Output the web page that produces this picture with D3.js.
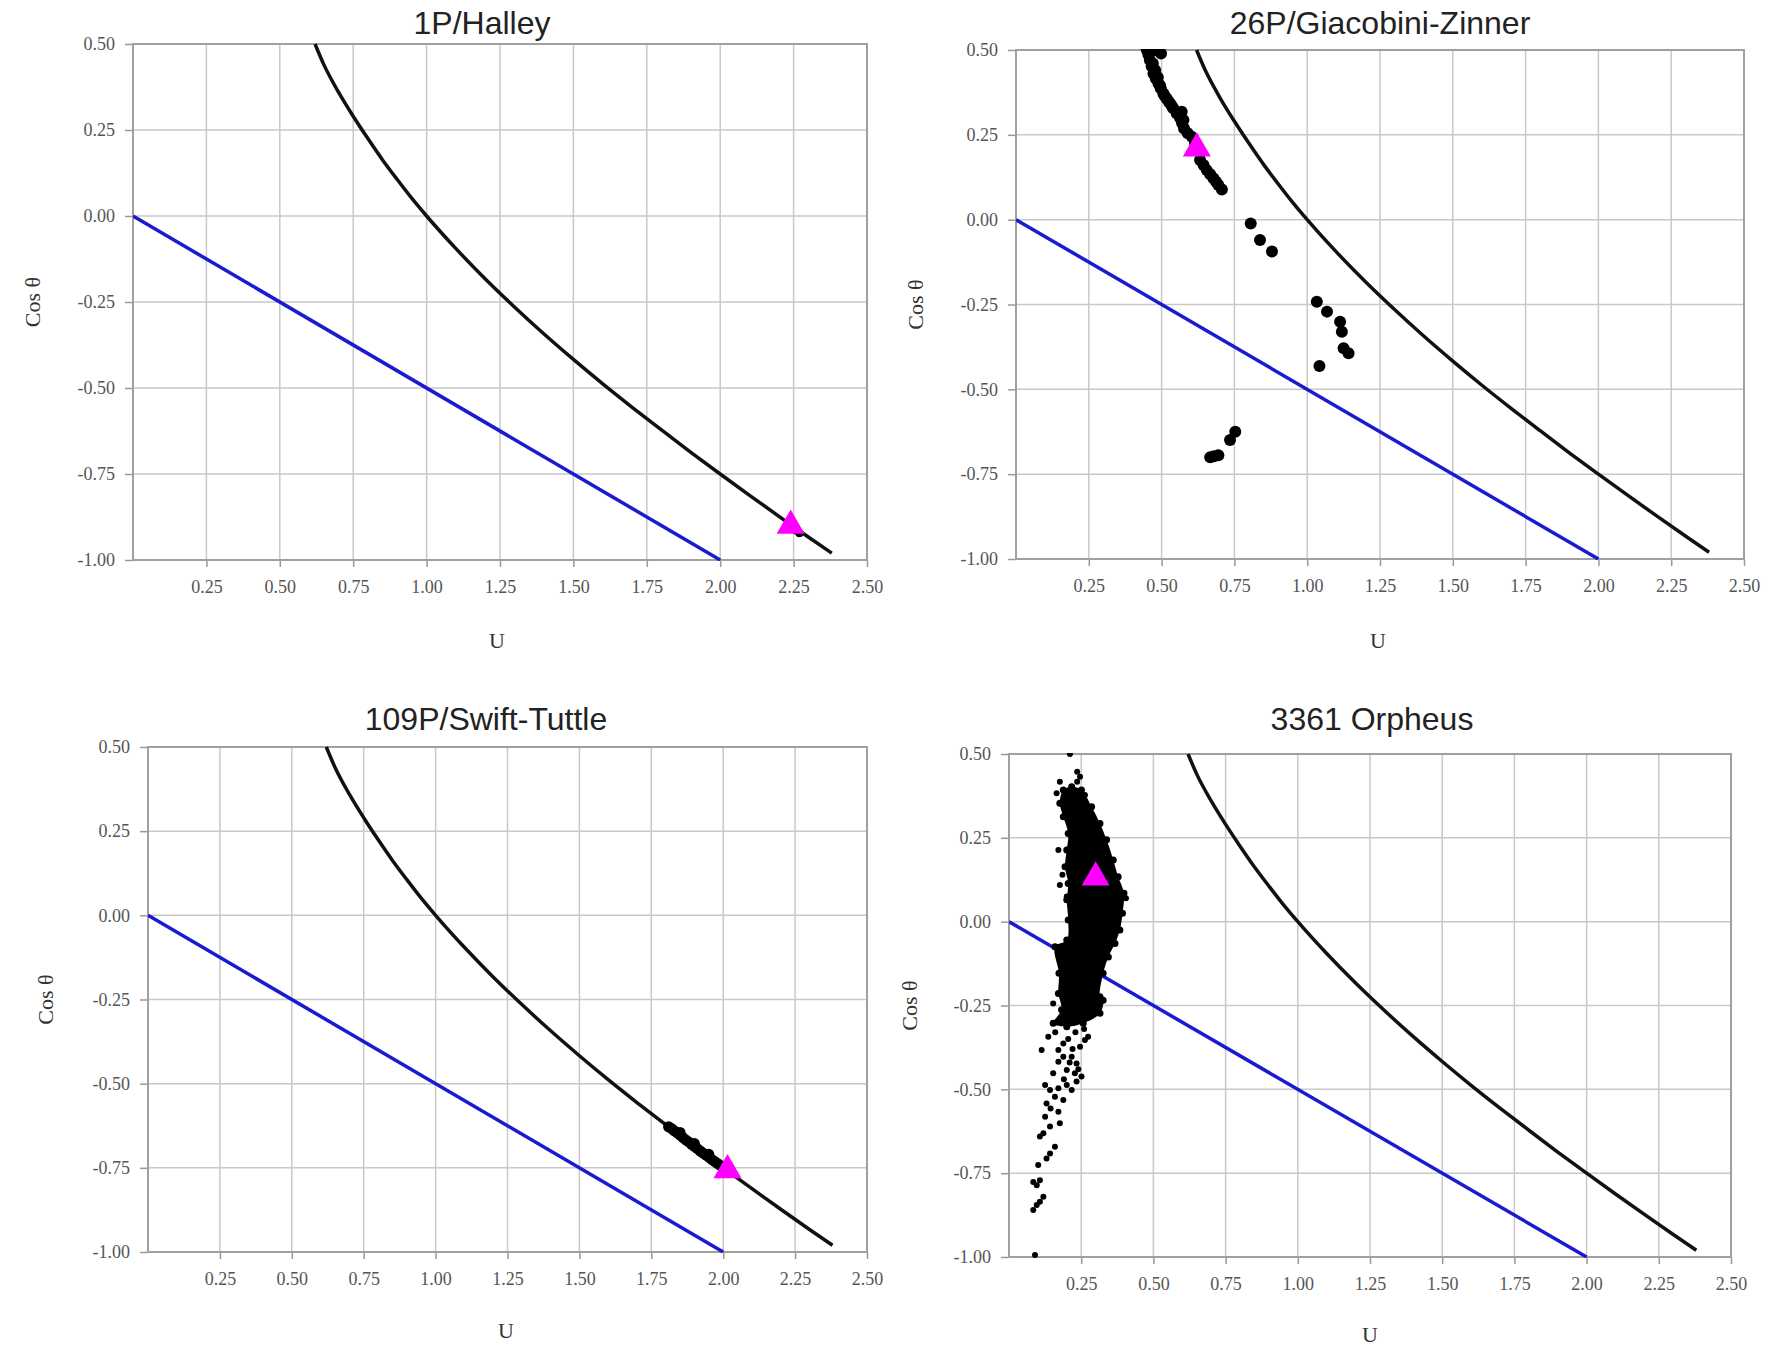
<!DOCTYPE html>
<html>
<head>
<meta charset="utf-8">
<script src="https://cdn.jsdelivr.net/npm/d3@7/dist/d3.min.js"></script>
<style>
	body { margin: 0; background: #fff; }
	svg { display: block; }
	.tick-label { font-family: 'Liberation Serif', 'DejaVu Serif', serif; font-size: 18px; fill: #555; }
	.title { font-family: 'Liberation Sans', Arial, sans-serif; font-size: 32px; fill: #222; }
	.axis-label { font-family: 'Liberation Serif', serif; font-size: 22px; fill: #333; }
</style>
</head>
<body>
<svg id="canvas"></svg>
<script>
// tick values shared by the four panels
const xTicks = [0.25, 0.5, 0.75, 1.0, 1.25, 1.5, 1.75, 2.0, 2.25, 2.5];
const yTicks = [0.5, 0.25, 0.0, -0.25, -0.5, -0.75, -1.0];

const titles = ['1P/Halley', '26P/Giacobini-Zinner', '109P/Swift-Tuttle', '3361 Orpheus'];

// black boundary curve
const boundaryU = [0.62, 0.65, 0.70, 0.75, 0.80, 0.85, 0.90, 0.95, 1.00, 1.10, 1.20, 1.30, 1.40,
	1.50, 1.60, 1.70, 1.80, 1.90, 2.00, 2.10, 2.20, 2.30, 2.38];
const boundaryCos = [0.50, 0.44, 0.36, 0.29, 0.225, 0.163, 0.106, 0.051, 0.0, -0.095, -0.183, -0.265, -0.343,
	-0.417, -0.488, -0.556, -0.622, -0.687, -0.75, -0.812, -0.873, -0.933, -0.98];

// blue straight line
const blueU = [0.0, 2.0];
const blueCos = [0.0, -1.0];

// magenta triangles (parent body)
const halleyTriangle = [2.24, -0.90];
const giacobiniTriangle = [0.621, 0.21];
const swiftTriangle = [2.015, -0.757];
const orpheusTriangle = [0.30, 0.132];

// black clone points
const halleyClones = [[2.26, -0.915], [2.27, -0.922]];

const giacobiniClones = [
	[0.449, 0.50], [0.465, 0.50], [0.478, 0.50], [0.49, 0.497], [0.498, 0.49], [0.455, 0.485],
	[0.46, 0.47], [0.47, 0.46], [0.466, 0.452], [0.472, 0.431], [0.478, 0.44], [0.48, 0.416],
	[0.487, 0.42], [0.489, 0.402], [0.495, 0.395], [0.497, 0.387], [0.506, 0.372], [0.51, 0.365],
	[0.517, 0.357], [0.523, 0.35], [0.529, 0.343], [0.535, 0.335], [0.54, 0.328], [0.552, 0.313],
	[0.569, 0.318], [0.563, 0.30], [0.575, 0.294], [0.57, 0.285], [0.577, 0.269], [0.59, 0.255],
	[0.604, 0.244], [0.615, 0.225], [0.632, 0.176], [0.644, 0.161], [0.655, 0.146], [0.667, 0.134],
	[0.678, 0.122], [0.687, 0.112], [0.695, 0.102], [0.707, 0.089],
	[0.806, -0.011], [0.838, -0.06], [0.879, -0.094],
	[1.033, -0.242], [1.068, -0.271], [1.113, -0.301], [1.119, -0.33], [1.125, -0.379],
	[1.142, -0.394], [1.042, -0.431],
	[0.753, -0.625], [0.735, -0.649], [0.695, -0.694], [0.667, -0.70], [0.68, -0.697]
];

const swiftClones = [
	[1.81, -0.628], [1.82, -0.633], [1.83, -0.64], [1.84, -0.646], [1.85, -0.653], [1.86, -0.66],
	[1.87, -0.667], [1.88, -0.673], [1.89, -0.68], [1.90, -0.686], [1.91, -0.693], [1.92, -0.70],
	[1.93, -0.706], [1.94, -0.712], [1.95, -0.718], [1.96, -0.725], [1.97, -0.731], [1.98, -0.737],
	[1.99, -0.743], [2.00, -0.75], [2.01, -0.756], [1.85, -0.645], [1.90, -0.678], [1.95, -0.71]
];

// outline of the dense part of the Orpheus cloud
const orpheusCore = [
	[0.217, 0.402], [0.251, 0.393], [0.286, 0.343], [0.315, 0.293], [0.338, 0.244], [0.361, 0.184],
	[0.378, 0.134], [0.398, 0.085], [0.393, 0.025], [0.384, -0.025], [0.367, -0.065], [0.344, -0.105],
	[0.326, -0.154], [0.315, -0.224], [0.326, -0.234], [0.315, -0.273], [0.257, -0.303], [0.20, -0.313],
	[0.153, -0.303], [0.182, -0.263], [0.171, -0.214], [0.173, -0.154], [0.159, -0.075], [0.20, -0.055],
	[0.205, 0.005], [0.20, 0.065], [0.205, 0.114], [0.194, 0.164], [0.20, 0.214], [0.205, 0.263],
	[0.188, 0.313], [0.176, 0.353], [0.188, 0.393]
];

// scattered Orpheus clones outside the dense part
const orpheusClones = [
	[0.211, 0.50], [0.236, 0.447], [0.236, 0.417], [0.246, 0.432], [0.176, 0.417], [0.165, 0.383],
	[0.263, 0.378], [0.171, 0.214], [0.176, 0.109], [0.20, 0.075], [0.185, 0.14], [0.405, 0.07],
	[0.153, -0.244], [0.136, -0.343], [0.113, -0.383], [0.188, -0.363], [0.274, -0.343], [0.263, -0.353],
	[0.246, -0.373], [0.171, -0.383], [0.188, -0.403], [0.217, -0.403], [0.234, -0.423], [0.171, -0.418],
	[0.20, -0.442], [0.228, -0.452], [0.251, -0.462], [0.153, -0.452], [0.125, -0.487], [0.142, -0.502],
	[0.171, -0.497], [0.20, -0.487], [0.217, -0.502], [0.234, -0.477], [0.159, -0.522], [0.188, -0.532],
	[0.13, -0.542], [0.144, -0.557], [0.171, -0.567], [0.125, -0.582], [0.176, -0.601], [0.142, -0.611],
	[0.119, -0.631], [0.107, -0.641], [0.159, -0.671], [0.142, -0.691], [0.13, -0.706], [0.101, -0.726],
	[0.084, -0.776], [0.107, -0.771], [0.096, -0.786], [0.119, -0.82], [0.107, -0.835], [0.096, -0.845],
	[0.084, -0.86], [0.09, -0.994], [0.21, -0.42], [0.24, -0.44], [0.19, -0.47], [0.22, -0.38],
	[0.205, -0.35], [0.23, -0.33], [0.16, -0.33], [0.26, -0.32]
];

const panels = [
	{ left: 133, right: 867, top: 44, bottom: 560, titleX: 482, titleY: 34, yLabelX: 32, uX: 497, uY: 648,
		clones: halleyClones, core: null, tri: halleyTriangle, r: 4 },
	{ left: 1016, right: 1744, top: 50, bottom: 559, titleX: 1380, titleY: 34, yLabelX: 915, uX: 1378, uY: 648,
		clones: giacobiniClones, core: null, tri: giacobiniTriangle, r: 6 },
	{ left: 148, right: 867, top: 747, bottom: 1252, titleX: 486, titleY: 730, yLabelX: 45, uX: 506, uY: 1338,
		clones: swiftClones, core: null, tri: swiftTriangle, r: 5.5 },
	{ left: 1009, right: 1731, top: 754, bottom: 1257, titleX: 1372, titleY: 730, yLabelX: 909, uX: 1370, uY: 1342,
		clones: orpheusClones, core: orpheusCore, tri: orpheusTriangle, r: 3 }
];

const w = 1771;
const h = 1351;
const svg = d3.select('#canvas').attr('width', w).attr('height', h);

const boundary = boundaryU.map((u, i) => [u, boundaryCos[i]]);
const blue = blueU.map((u, i) => [u, blueCos[i]]);

panels.forEach((p, idx) => {
	const x = d3.scaleLinear().domain([0, 2.5]).range([p.left, p.right]);
	const y = d3.scaleLinear().domain([-1, 0.5]).range([p.bottom, p.top]);
	const g = svg.append('g');

	g.append('clipPath').attr('id', 'clip' + idx)
		.append('rect')
		.attr('x', p.left).attr('y', p.top - 1)
		.attr('width', p.right - p.left).attr('height', p.bottom - p.top + 2);

	// gridlines
	g.append('g')
		.selectAll('line.vg')
		.data(xTicks)
		.enter()
		.append('line')
		.attr('x1', (d) => x(d)).attr('x2', (d) => x(d))
		.attr('y1', p.top).attr('y2', p.bottom)
		.attr('stroke', '#c9c9c9').attr('stroke-width', 1.5);
	g.append('g')
		.selectAll('line.hg')
		.data(yTicks)
		.enter()
		.append('line')
		.attr('x1', p.left).attr('x2', p.right)
		.attr('y1', (d) => y(d)).attr('y2', (d) => y(d))
		.attr('stroke', '#c9c9c9').attr('stroke-width', 1.5);

	// axes
	const xAxis = d3.axisBottom(x).tickValues(xTicks).tickSize(7).tickFormat((d) => d.toFixed(2));
	const yAxis = d3.axisLeft(y).tickValues(yTicks).tickSize(8).tickFormat((d) => d.toFixed(2));
	const gx = g.append('g').attr('transform', 'translate(0,' + p.bottom + ')').call(xAxis);
	const gy = g.append('g').attr('transform', 'translate(' + p.left + ',0)').call(yAxis);
	[gx, gy].forEach((a) => {
		a.select('.domain').remove();
		a.selectAll('.tick line').attr('stroke', '#999').attr('stroke-width', 1.5);
		a.selectAll('.tick text').attr('class', 'tick-label').attr('fill', null);
	});
	gx.selectAll('.tick text').attr('dy', null).attr('y', 33);
	gy.selectAll('.tick text').attr('x', -18).attr('dy', '0.32em');

	// plot frame
	g.append('rect')
		.attr('x', p.left).attr('y', p.top)
		.attr('width', p.right - p.left).attr('height', p.bottom - p.top)
		.attr('fill', 'none').attr('stroke', '#a0a0a0').attr('stroke-width', 2);

	const line = d3.line().x((d) => x(d[0])).y((d) => y(d[1]));
	const plot = g.append('g').attr('clip-path', 'url(#clip' + idx + ')');

	plot.append('path')
		.datum(blue)
		.attr('d', line)
		.attr('fill', 'none').attr('stroke', '#1a1ad0').attr('stroke-width', 3.5);

	plot.append('path')
		.datum(boundary)
		.attr('d', line.curve(d3.curveMonotoneX))
		.attr('fill', 'none').attr('stroke', '#111').attr('stroke-width', 3.5);

	if (p.core) {
		plot.append('path')
			.datum(p.core)
			.attr('d', d3.line().x((d) => x(d[0])).y((d) => y(d[1])).curve(d3.curveCatmullRomClosed))
			.attr('fill', '#000');
		plot.append('g')
			.selectAll('circle')
			.data(p.core)
			.enter()
			.append('circle')
			.attr('cx', (d) => x(d[0])).attr('cy', (d) => y(d[1]))
			.attr('r', p.r + 0.5).attr('fill', '#000');
	}

	plot.append('g')
		.selectAll('circle')
		.data(p.clones)
		.enter()
		.append('circle')
		.attr('cx', (d) => x(d[0])).attr('cy', (d) => y(d[1]))
		.attr('r', p.r).attr('fill', '#000');

	g.append('path')
		.attr('d', d3.symbol(d3.symbolTriangle, 340)())
		.attr('transform', 'translate(' + x(p.tri[0]) + ',' + y(p.tri[1]) + ')')
		.attr('fill', '#ff00ff');

	// labels
	g.append('text').attr('class', 'title')
		.attr('x', p.titleX).attr('y', p.titleY)
		.attr('text-anchor', 'middle')
		.text(titles[idx]);

	g.append('text').attr('class', 'axis-label')
		.attr('text-anchor', 'middle')
		.attr('transform', 'translate(' + p.yLabelX + ',' + (p.top + p.bottom) / 2 + ') rotate(-90)')
		.attr('dy', '0.35em')
		.text('Cos θ');

	g.append('text').attr('class', 'axis-label')
		.attr('x', p.uX).attr('y', p.uY)
		.attr('text-anchor', 'middle')
		.text('U');
});
</script>
</body>
</html>
